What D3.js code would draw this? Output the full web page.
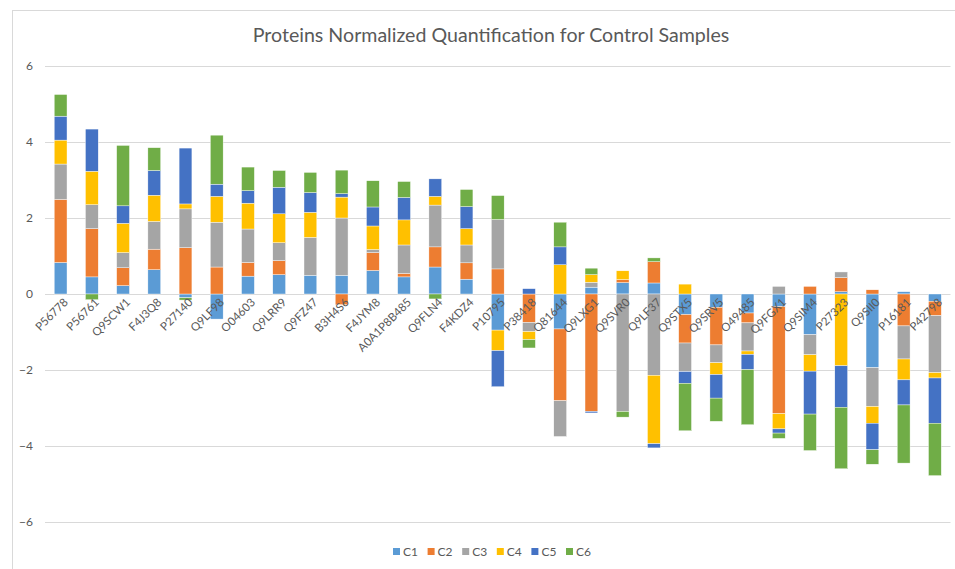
<!DOCTYPE html>
<html>
<head>
<meta charset="utf-8">
<script src="https://cdn.jsdelivr.net/npm/d3@7"></script>
<style>
  body { margin: 0; background: #fff; }
  svg { display: block; }
</style>
</head>
<body>
<svg id="chart" width="955" height="569"></svg>
<script>
const categories = ["P56778","P56761","Q9SCW1","F4J3Q8","P27140","Q9LF98","O04603","Q9LRR9","Q9FZ47","B3H4S6","F4JYM8","A0A1P8B485","Q9FLN4","F4KDZ4","P10795","P38418","Q81644","Q9LXG1","Q9SVR0","Q9LF37","Q9STX5","Q9SRV5","O49485","Q9FGX1","Q9SIM4","P27323","Q9SII0","P16181","P42798"];
const seriesNames = ["C1","C2","C3","C4","C5","C6"];
const C1 = [0.83,0.45,0.22,0.64,-0.10,-0.66,0.47,0.51,0.49,0.49,0.62,0.45,0.71,0.39,-0.95,0.00,-0.92,0.18,0.30,0.29,-0.54,-0.35,-0.50,-0.33,-1.07,0.06,-1.94,0.06,-0.19];
const C2 = [1.66,1.27,0.47,0.54,1.22,0.71,0.36,0.37,0.00,-0.28,0.47,0.09,0.53,0.43,0.66,-0.75,-1.89,-3.09,0.08,0.56,-0.75,-0.99,-0.26,-2.82,0.20,0.37,0.11,-0.84,-0.38];
const C3 = [0.93,0.63,0.40,0.73,1.02,1.18,0.88,0.47,1.00,1.51,0.08,0.75,1.10,0.47,1.30,-0.24,-0.94,0.13,-3.09,-2.14,-0.75,-0.47,-0.74,0.20,-0.53,0.15,-1.02,-0.87,-1.50];
const C4 = [0.63,0.88,0.77,0.69,0.13,0.68,0.68,0.76,0.66,0.55,0.62,0.66,0.23,0.43,-0.54,-0.21,0.77,0.20,0.23,-1.80,0.26,-0.31,-0.09,-0.40,-0.43,-1.89,-0.44,-0.55,-0.14];
const C5 = [0.63,1.11,0.46,0.65,1.47,0.32,0.33,0.70,0.52,0.09,0.50,0.59,0.46,0.58,-0.95,0.14,0.47,-0.04,0.00,-0.11,-0.31,-0.62,-0.40,-0.11,-1.13,-1.09,-0.70,-0.66,-1.19];
const C6 = [0.57,-0.15,1.59,0.60,-0.06,1.29,0.62,0.44,0.53,0.62,0.69,0.42,-0.13,0.45,0.63,-0.22,0.65,0.17,-0.15,0.10,-1.25,-0.61,-1.45,-0.14,-0.96,-1.62,-0.38,-1.53,-1.38];
const colors = ["#5B9BD5","#ED7D31","#A5A5A5","#FFC000","#4472C4","#70AD47"];
const yTicks = [-6,-4,-2,0,2,4,6];
const title = "Proteins Normalized Quantification for Control Samples";

const seriesValues = [C1,C2,C3,C4,C5,C6];
const rows = categories.map((c,i) => {
  const r = {cat: c};
  seriesNames.forEach((s,j) => r[s] = seriesValues[j][i]);
  return r;
});

const font = "Lato, 'Open Sans', sans-serif";
const textColor = "#595959";
const svg = d3.select("#chart");

// chart area border
svg.append("rect").attr("x",12.5).attr("y",10.5).attr("width",960).attr("height",580)
  .attr("fill","#fff").attr("stroke","#d9d9d9").attr("stroke-width",1);

const x = d3.scaleBand().domain(categories).range([45, 950.5]).paddingInner(0.59).paddingOuter(0.295);
const y = d3.scaleLinear().domain([-6,6]).range([522, 66]);

// gridlines
svg.append("g").selectAll("line").data(yTicks).join("line")
  .attr("x1",45).attr("x2",950.5)
  .attr("y1",d=>Math.round(y(d))+0.5).attr("y2",d=>Math.round(y(d))+0.5)
  .attr("stroke","#d9d9d9").attr("stroke-width",1);

// y labels
const yAxis = d3.axisLeft(y).tickValues(yTicks).tickSize(0).tickPadding(0);
const ga = svg.append("g").attr("transform","translate(33,0)").call(yAxis);
ga.select(".domain").remove();
ga.selectAll("text").attr("font-family",font).attr("font-size",12).attr("fill",textColor);

// stacked bars
const stack = d3.stack().keys(seriesNames).offset(d3.stackOffsetDiverging);
const stacked = stack(rows);
svg.append("g").selectAll("g").data(stacked).join("g")
  .attr("fill",(d,i)=>colors[i])
  .selectAll("rect").data(d=>d).join("rect")
  .attr("x",d=>x(d.data.cat))
  .attr("width",x.bandwidth())
  .attr("y",d=>y(Math.max(d[0],d[1])))
  .attr("height",d=>Math.abs(y(d[0])-y(d[1])))
  .attr("stroke","#fff").attr("stroke-width",0.4);

// category labels
svg.append("g").selectAll("text").data(categories).join("text")
  .attr("transform",d=>`translate(${x(d)+x.bandwidth()/2+8},${y(0)+9}) rotate(-45)`)
  .attr("text-anchor","end")
  .attr("font-family",font).attr("font-size",11.5).attr("fill",textColor)
  .text(d=>d);

// title
svg.append("text").attr("x",491).attr("y",42).attr("text-anchor","middle")
  .attr("font-family",font).attr("font-size",19.6).attr("fill",textColor)
  .text(title);

// legend
const lg = svg.append("g");
seriesNames.forEach((s,i)=>{
  const gx = 393 + i*34.6;
  lg.append("rect").attr("x",gx).attr("y",548).attr("width",7).attr("height",7).attr("fill",colors[i]);
  lg.append("text").attr("x",gx+10).attr("y",555.5).attr("font-family",font).attr("font-size",12)
    .attr("fill",textColor).text(s);
});
</script>
</body>
</html>
